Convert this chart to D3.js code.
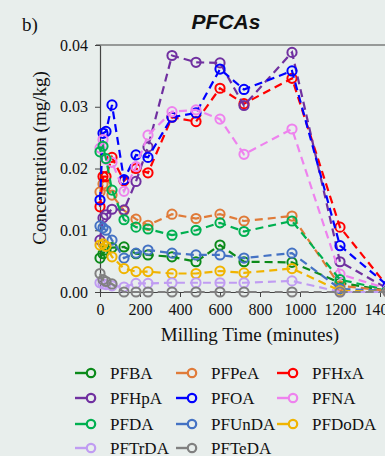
<!DOCTYPE html>
<html>
<head>
<meta charset="utf-8">
<script src="https://cdn.jsdelivr.net/npm/d3@7"></script>
<style>
  body { margin: 0; background: #e8eeec; overflow: hidden; }
  svg { display: block; }
  text { font-family: "Liberation Serif", "Times New Roman", serif; fill: #111; }
</style>
</head>
<body>
<div id="chart"></div>
<script>
// milling times (minutes)
var times = [0, 15, 30, 60, 120, 180, 240, 360, 480, 600, 720, 960, 1200, 1440];

// concentrations (mg/kg), one array per compound
var PFBA   = [0.0055, 0.0062, 0.0068, 0.0072, 0.0073, 0.0062, 0.0060, 0.0057, 0.0049, 0.0076, 0.0049, 0.0048, 0.0015, 0.0002];
var PFPeA  = [0.0162, 0.0175, 0.0172, 0.0157, 0.0132, 0.0118, 0.0108, 0.0126, 0.0119, 0.0126, 0.0115, 0.0123, 0.0010, 0.0002];
var PFHxA  = [0.0138, 0.0187, 0.0187, 0.0218, 0.0180, 0.0200, 0.0193, 0.0283, 0.0276, 0.0330, 0.0305, 0.0346, 0.0105, 0.0008];
var PFHpA  = [0.0084, 0.0120, 0.0125, 0.0134, 0.0133, 0.0179, 0.0235, 0.0383, 0.0372, 0.0371, 0.0302, 0.0388, 0.0049, 0.0005];
var PFOA   = [0.0149, 0.0257, 0.0260, 0.0303, 0.0182, 0.0222, 0.0218, 0.0283, 0.0290, 0.0361, 0.0328, 0.0358, 0.0075, 0.0010];
var PFNA   = [0.0233, 0.0247, 0.0215, 0.0210, 0.0163, 0.0203, 0.0254, 0.0292, 0.0295, 0.0280, 0.0223, 0.0264, 0.0029, 0.0005];
var PFDA   = [0.0227, 0.0236, 0.0216, 0.0165, 0.0117, 0.0105, 0.0102, 0.0092, 0.0100, 0.0112, 0.0098, 0.0115, 0.0020, 0.0003];
var PFUnDA = [0.0107, 0.0104, 0.0100, 0.0084, 0.0055, 0.0063, 0.0068, 0.0063, 0.0060, 0.0060, 0.0055, 0.0063, 0.0005, 0.0002];
var PFDoDA = [0.0076, 0.0078, 0.0074, 0.0057, 0.0038, 0.0033, 0.0033, 0.0030, 0.0030, 0.0034, 0.0031, 0.0038, 0.0002, 0.0000];
var PFTrDA = [0.0015, 0.0013, 0.0012, 0.0010, 0.0008, 0.0014, 0.0014, 0.0015, 0.0015, 0.0015, 0.0015, 0.0018, 0.0000, 0.0000];
var PFTeDA = [0.0030, 0.0020, 0.0017, 0.0013, 0.0000, 0.0000, 0.0000, 0.0000, 0.0000, 0.0000, 0.0000, 0.0000, 0.0000, 0.0000];

var names  = ["PFBA", "PFPeA", "PFHxA", "PFHpA", "PFOA", "PFNA", "PFDA", "PFUnDA", "PFDoDA", "PFTrDA", "PFTeDA"];
var values = [PFBA, PFPeA, PFHxA, PFHpA, PFOA, PFNA, PFDA, PFUnDA, PFDoDA, PFTrDA, PFTeDA];
var colors = ["#0b8a1a", "#e07b39", "#ff0000", "#7030a0", "#0000ff", "#ee82ee", "#00b050", "#4472c4", "#f0b400", "#c09cf2", "#808080"];

var xTicks = [0, 200, 400, 600, 800, 1000, 1200, 1400];
var yTicks = [0, 0.01, 0.02, 0.03, 0.04];

var W = 385, H = 456;
var svg = d3.select("#chart").append("svg")
    .attr("width", W)
    .attr("height", H);

var x = d3.scaleLinear().domain([0, 1440]).range([100, 388]);
var y = d3.scaleLinear().domain([0, 0.04]).range([292, 45]);

// title + panel letter
svg.append("text")
    .attr("x", 226).attr("y", 29)
    .attr("text-anchor", "middle")
    .style("font-family", "'Liberation Sans', Arial, sans-serif")
    .style("font-weight", "bold").style("font-style", "italic")
    .style("font-size", "21px")
    .text("PFCAs");
svg.append("text")
    .attr("x", 22).attr("y", 31)
    .style("font-size", "19px")
    .text("b)");

// frame
svg.append("line")
    .attr("x1", 96).attr("x2", W).attr("y1", 45).attr("y2", 45)
    .attr("stroke", "#444").attr("stroke-width", 1.2);

var xAxis = d3.axisBottom(x).tickValues(xTicks).tickSize(5).tickSizeOuter(0).tickFormat(d3.format("d"));
var yAxis = d3.axisLeft(y).tickValues(yTicks).tickSize(5).tickSizeOuter(0).tickFormat(d3.format(".2f"));

var gx = svg.append("g").attr("transform", "translate(0,292)").call(xAxis);
var gy = svg.append("g").attr("transform", "translate(100,0)").call(yAxis);
[gx, gy].forEach(function(g){
    g.select(".domain").attr("stroke", "#444").attr("stroke-width", 1.2);
    g.selectAll(".tick line").attr("stroke", "#444");
    g.selectAll(".tick text").style("font-size", "16px").style("font-family", "'Liberation Serif', serif").attr("fill", "#111");
});
gx.selectAll(".tick text").attr("y", 12);
gy.selectAll(".tick text").attr("x", -12);

// axis titles
svg.append("text")
    .attr("x", 250).attr("y", 341)
    .attr("text-anchor", "middle")
    .style("font-size", "19px")
    .text("Milling Time (minutes)");
svg.append("text")
    .attr("transform", "translate(46,158) rotate(-90)")
    .attr("text-anchor", "middle")
    .style("font-size", "19px")
    .text("Concentration (mg/kg)");

// series
var line = d3.line()
    .x(function(d, i) { return x(times[i]); })
    .y(function(d) { return y(d); });

var series = svg.selectAll(".series")
    .data(values)
    .enter().append("g")
    .attr("class", "series");

series.append("path")
    .attr("d", function(d) { return line(d); })
    .attr("fill", "none")
    .attr("stroke", function(d, i) { return colors[i]; })
    .attr("stroke-width", 2.2)
    .attr("stroke-dasharray", "8,5");

series.each(function(d, i){
    d3.select(this).selectAll("circle")
        .data(d)
        .enter().append("circle")
        .attr("cx", function(v, j) { return x(times[j]); })
        .attr("cy", function(v) { return y(v); })
        .attr("r", 4.6)
        .attr("fill", "none")
        .attr("stroke", colors[i])
        .attr("stroke-width", 2);
});

// legend
var legCols = [75, 176, 277], legRows = [373, 398, 424, 448];
var leg = svg.selectAll(".leg")
    .data(names)
    .enter().append("g")
    .attr("class", "leg")
    .attr("transform", function(d, i) {
        return "translate(" + legCols[i % 3] + "," + legRows[Math.floor(i / 3)] + ")";
    });
leg.append("line")
    .attr("x1", 0).attr("x2", 12)
    .attr("stroke", function(d, i) { return colors[i]; })
    .attr("stroke-width", 2.4);
leg.append("circle")
    .attr("cx", 16).attr("r", 4.2)
    .attr("fill", "none")
    .attr("stroke", function(d, i) { return colors[i]; })
    .attr("stroke-width", 2.2);
leg.append("text")
    .attr("x", 35).attr("dy", "0.35em")
    .style("font-size", "17px")
    .text(function(d) { return d; });
</script>
</body>
</html>
